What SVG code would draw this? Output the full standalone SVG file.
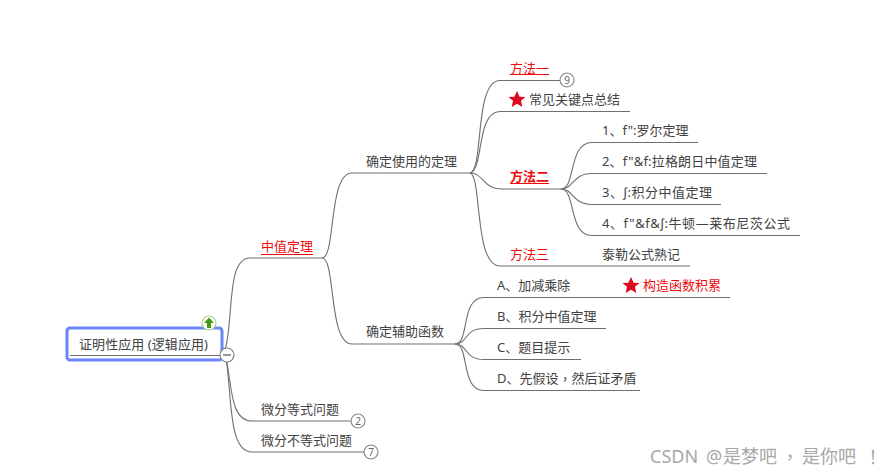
<svg xmlns="http://www.w3.org/2000/svg" width="889" height="475" viewBox="0 0 889 475">
<style>
text{font-family:"Noto Sans","Noto Sans CJK SC",sans-serif;font-size:13px;fill:#424242;dominant-baseline:central}
.red{fill:#f00a0a}
.b{font-weight:700}
.i{font-family:"Liberation Sans",sans-serif}
.t{font-family:"Noto Sans CJK TC",sans-serif}
.c path{fill:none;stroke:#6f6f6f;stroke-width:1.1}
.badge circle{fill:#fff;stroke:#8a8a8a;stroke-width:1.2}
.badge text{font-size:10px;text-anchor:middle;fill:#666}
.star{fill:#dc0a1e}
</style>
<defs><polygon id="star" class="star" points="0,-8.500 2.600,-2.800 8.500,-2.600 4,1.300 5.300,7.500 0,4.300 -5.300,7.500 -4,1.300 -8.500,-2.600 -2.600,-2.800"/></defs>
<rect width="889" height="475" fill="#fff"/>
<g class="c">
<path d="M225 350C234 320 226 258 250 258H322"/>
<path d="M226 358C232 385 230 421 252 421H351"/>
<path d="M226 358C232 395 228 452 252 452H364"/>
<path d="M322 258C336 258 328 173 352 173H470"/>
<path d="M322 258C336 258 328 344 352 344H455"/>
<path d="M470 173C484 170 474 80.500 500 80.500H561"/>
<path d="M470 173C484 170 476 111.500 500 111.500H630"/>
<path d="M470 173C484 173 482 189 502 189H561"/>
<path d="M470 173C482 176 474 266 500 266H690"/>
<path d="M561 189C576 189 568 142.500 592 142.500H698"/>
<path d="M561 189C574 189 572 173.500 592 173.500H767"/>
<path d="M561 189C574 189 572 204.500 592 204.500H721"/>
<path d="M561 189C576 189 568 235.500 592 235.500H800"/>
<path d="M455 344C470 344 460 297.500 484 297.500H730"/>
<path d="M455 344C468 344 464 328.500 484 328.500H606"/>
<path d="M455 344C468 344 464 359.500 484 359.500H581"/>
<path d="M455 344C470 344 460 390.500 484 390.500H640"/>
</g>
<g id="root">
<rect x="67" y="328" width="155" height="32" rx="3" fill="#fff" stroke="#6b85fa" stroke-width="3"/>
<path d="M70 355.500H220" stroke="#6f6f6f" stroke-width="1.100"/>
<text x="79" y="343.500" textLength="129">证明性应用 (逻辑应用)</text>
</g>
<g id="collapse"><circle cx="227" cy="355" r="7" fill="#fff" stroke="#808080" stroke-width="1.200"/><path d="M223 355H231" stroke="#555" stroke-width="1.200"/></g>
<g id="up"><circle cx="209" cy="323" r="7" fill="#fff" stroke="#a8cf9a" stroke-width="1.200"/><polygon points="209,317.500 214,323 211,323 211,328 207,328 207,323 204,323" fill="#3f9a12"/></g>
<g id="n1"><text class="red" x="261" y="246">中值定理</text><path d="M261 254.500H313" stroke="#f00a0a"/></g>
<g id="n2"><text x="366" y="161">确定使用的定理</text></g>
<g id="n3"><text x="366" y="331">确定辅助函数</text></g>
<g id="n4"><text x="261" y="409">微分等式问题</text><g class="badge"><circle cx="358" cy="421" r="7"/><text x="358" y="421">2</text></g></g>
<g id="n5"><text x="261" y="440">微分不等式问题</text><g class="badge"><circle cx="371" cy="452" r="7"/><text x="371" y="452">7</text></g></g>
<g id="n6"><text class="red" x="510" y="68">方法一</text><path d="M510 74.500H549" stroke="#f00a0a"/><g class="badge"><circle cx="567" cy="80" r="7"/><text x="567" y="80">9</text></g></g>
<g id="n7"><use href="#star" x="517" y="99.500"/><text x="529" y="99">常见关键点总结</text></g>
<g id="n8"><text class="red b" x="510" y="176">方法二</text><path d="M510 183.500H549" stroke="#f00a0a"/></g>
<g id="n9"><text class="red" x="510" y="254">方法三</text><text x="602" y="254">泰勒公式熟记</text></g>
<g id="n10"><text x="602" y="130">1、f":罗尔定理</text></g>
<g id="n11"><text x="602" y="161" textLength="155">2、f"&amp;f:拉格朗日中值定理</text></g>
<g id="n12"><text x="602" y="192" textLength="110">3、<tspan class="i">∫</tspan>:积分中值定理</text></g>
<g id="n13"><text x="602" y="223" textLength="188">4、f"&amp;f&amp;<tspan class="i">∫</tspan>:牛顿—莱布尼茨公式</text></g>
<g id="n14"><text x="497" y="285">A、加减乘除</text><use href="#star" x="631" y="285.500"/><text class="red" x="643" y="285">构造函数积累</text></g>
<g id="n15"><text x="497" y="316">B、积分中值定理</text></g>
<g id="n16"><text x="497" y="347">C、题目提示</text></g>
<g id="n17"><text x="497" y="378">D、先假设<tspan class="t">，</tspan>然后证矛盾</text></g>
<text y="456" style="font-size:18px;fill:#a8a8a8"><tspan x="650">CSDN</tspan><tspan x="706">@</tspan><tspan x="723">是梦吧</tspan><tspan class="t" x="781">，</tspan><tspan x="802">是你吧</tspan><tspan class="t" x="864">！</tspan></text>
</svg>
